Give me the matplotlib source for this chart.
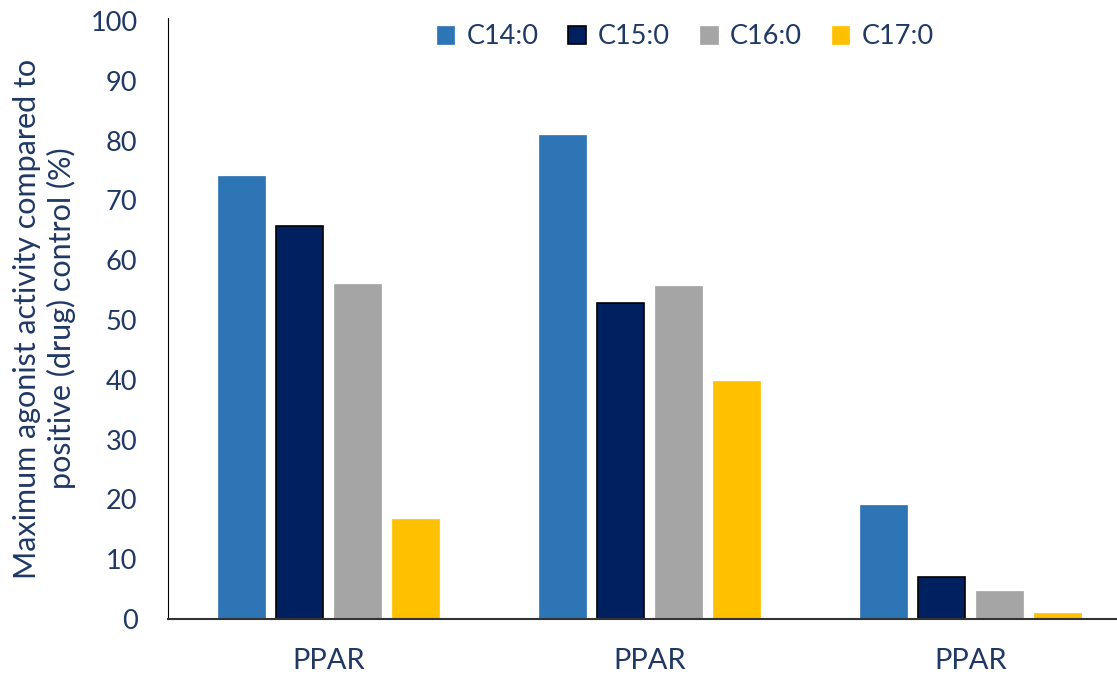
import numpy as np
import matplotlib.pyplot as plt

groups = ["PPAR", "PPAR", "PPAR"]
series = ["C14:0", "C15:0", "C16:0", "C17:0"]
c14 = [74.0, 81.0, 19.0]
c15 = [65.7, 52.8, 7.0]
c16 = [56.0, 55.7, 4.7]
c17 = [16.7, 39.8, 1.0]

colors = ["#2E75B6", "#002060", "#A5A5A5", "#FFC000"]
edges = ["#2E75B6", "black", "#A5A5A5", "#FFC000"]
txt = "#1F3864"

plt.rcParams["font.family"] = ["Lato", "DejaVu Sans"]

fig = plt.figure(figsize=(11.17, 6.77), dpi=100)
ax = fig.add_axes([0.1504, 0.0857, 0.8496, 0.8877])

x = np.arange(len(groups))
step = 0.181
width = 0.146
for i, vals in enumerate([c14, c15, c16, c17]):
    ax.bar(x + (i - 1.5) * step, vals, width, color=colors[i],
           edgecolor=edges[i], linewidth=1.2 if i == 1 else 0.5,
           label=series[i], zorder=2)

ax.set_xlim(-0.5, 2.456)
ax.set_ylim(0, 100.5)
ax.set_yticks(range(0, 101, 10))
ax.set_xticks(x)
ax.set_xticklabels(groups)
ax.tick_params(axis="both", length=0, colors=txt)
ax.tick_params(axis="y", pad=22, labelsize=19.5)
ax.tick_params(axis="x", pad=21, labelsize=21)
for s in ["top", "right"]:
    ax.spines[s].set_visible(False)
ax.spines["left"].set_color("black")
ax.spines["bottom"].set_color("#333333")
ax.spines["bottom"].set_linewidth(1.5)

ax.set_ylabel("Maximum agonist activity compared to\npositive (drug) control (%)",
              color=txt, fontsize=22, labelpad=10, linespacing=1.25)

ax.legend(loc="upper center", bbox_to_anchor=(0.545, 1.03), ncol=4, frameon=False,
          fontsize=19.5, labelcolor=txt, handlelength=0.65, handleheight=0.65,
          handletextpad=0.45, columnspacing=1.1)

fig.savefig("out.png", dpi=100)
